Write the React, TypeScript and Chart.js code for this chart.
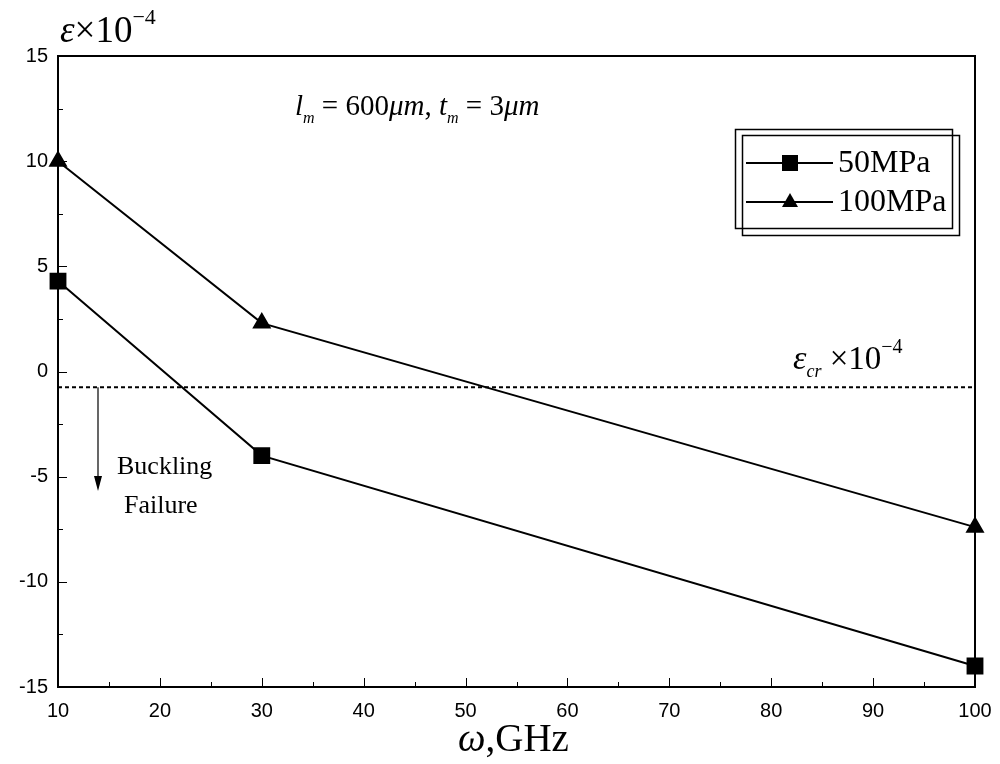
import React, { useEffect, useRef } from "react";
import { Chart, registerables } from "chart.js";

Chart.register(...registerables);

const frequencies = [10, 30, 100];
const strain50MPa = [4.3, -4.0, -14.0];
const strain100MPa = [10.0, 2.3, -7.4];
const criticalStrain = -0.75;
const criticalRange = [10, 100];
const seriesLabels = ["50MPa", "100MPa"];
const xTicks = [10, 20, 30, 40, 50, 60, 70, 80, 90, 100];
const yTicks = [-15, -10, -5, 0, 5, 10, 15];

const SERIF = '"Liberation Serif", "DejaVu Serif", serif';
const SANS = '"Liberation Sans", Arial, sans-serif';

type Seg = { t: string; size: number; italic?: boolean; dy?: number };

function drawRich(ctx: CanvasRenderingContext2D, x: number, y: number, segs: Seg[]) {
  let cx = x;
  ctx.save();
  ctx.fillStyle = "#000";
  ctx.textAlign = "left";
  ctx.textBaseline = "alphabetic";
  for (const s of segs) {
    ctx.font = `${s.italic ? "italic " : ""}${s.size}px ${SERIF}`;
    ctx.fillText(s.t, cx, y + (s.dy || 0));
    cx += ctx.measureText(s.t).width;
  }
  ctx.restore();
  return cx;
}

const decorPlugin = {
  id: "decor",
  beforeDatasetsDraw(chart: any) {
    const { ctx, chartArea, scales } = chart;
    const { left, right, top, bottom } = chartArea;
    ctx.save();
    ctx.strokeStyle = "#000";
    ctx.lineWidth = 2;
    ctx.strokeRect(left, top, right - left, bottom - top);
    ctx.lineWidth = 1;
    const xs = scales.x;
    for (let v = 10; v <= 100; v += 5) {
      const px = Math.round(xs.getPixelForValue(v)) + 0.5;
      const len = v % 10 === 0 ? 9 : 5;
      ctx.beginPath();
      ctx.moveTo(px, bottom);
      ctx.lineTo(px, bottom - len);
      ctx.stroke();
    }
    const ys = scales.y;
    for (let v = -15; v <= 15; v += 2.5) {
      const py = Math.round(ys.getPixelForValue(v)) + 0.5;
      const len = v % 5 === 0 ? 9 : 5;
      ctx.beginPath();
      ctx.moveTo(left, py);
      ctx.lineTo(left + len, py);
      ctx.stroke();
    }
    ctx.restore();
  },
  afterDraw(chart: any) {
    const { ctx } = chart;
    drawRich(ctx, 60, 42, [
      { t: "ε", size: 37, italic: true },
      { t: "×10", size: 37 },
      { t: "−4", size: 22, dy: -18 },
    ]);
    drawRich(ctx, 458, 751, [
      { t: "ω", size: 39, italic: true },
      { t: ",GHz", size: 39 },
    ]);
    drawRich(ctx, 295, 115, [
      { t: "l", size: 29, italic: true },
      { t: "m", size: 16, italic: true, dy: 8 },
      { t: " = 600", size: 29 },
      { t: "μm", size: 29, italic: true },
      { t: ", ", size: 29 },
      { t: "t", size: 29, italic: true },
      { t: "m", size: 16, italic: true, dy: 8 },
      { t: " = 3", size: 29 },
      { t: "μm", size: 29, italic: true },
    ]);
    drawRich(ctx, 793, 369, [
      { t: "ε", size: 34, italic: true },
      { t: "cr", size: 18, italic: true, dy: 8 },
      { t: " ×10", size: 33 },
      { t: "−4", size: 20, dy: -16 },
    ]);
    const ys = chart.scales.y;
    const ay = ys.getPixelForValue(criticalStrain);
    const ax = 98;
    ctx.save();
    ctx.strokeStyle = "#000";
    ctx.fillStyle = "#000";
    ctx.lineWidth = 1.2;
    ctx.beginPath();
    ctx.moveTo(ax, ay);
    ctx.lineTo(ax, 480);
    ctx.stroke();
    ctx.beginPath();
    ctx.moveTo(ax - 4, 476);
    ctx.lineTo(ax + 4, 476);
    ctx.lineTo(ax, 491);
    ctx.closePath();
    ctx.fill();
    ctx.restore();
    drawRich(ctx, 117, 474, [{ t: "Buckling", size: 26 }]);
    drawRich(ctx, 124, 513, [{ t: "Failure", size: 26 }]);
    // legend
    ctx.save();
    ctx.strokeStyle = "#000";
    ctx.lineWidth = 1.5;
    ctx.strokeRect(735.5, 129.5, 217, 99);
    ctx.strokeRect(742.5, 135.5, 217, 100);
    ctx.restore();
    const items = [
      { y: 163, label: seriesLabels[0], style: "rect" },
      { y: 202, label: seriesLabels[1], style: "triangle" },
    ];
    for (const it of items) {
      ctx.save();
      ctx.strokeStyle = "#000";
      ctx.fillStyle = "#000";
      ctx.lineWidth = 2;
      ctx.beginPath();
      ctx.moveTo(746, it.y);
      ctx.lineTo(833, it.y);
      ctx.stroke();
      if (it.style === "rect") {
        ctx.fillRect(782, it.y - 8, 16, 16);
      } else {
        ctx.beginPath();
        ctx.moveTo(790, it.y - 9);
        ctx.lineTo(798, it.y + 5);
        ctx.lineTo(782, it.y + 5);
        ctx.closePath();
        ctx.fill();
      }
      ctx.restore();
      drawRich(ctx, 838, it.y + 9, [{ t: it.label, size: 32 }]);
    }
  },
};

export default function App() {
  const ref = useRef<HTMLCanvasElement | null>(null);
  useEffect(() => {
    if (!ref.current) return;
    const chart = new Chart(ref.current, {
      type: "scatter",
      data: {
        datasets: [
          {
            label: seriesLabels[0],
            data: frequencies.map((x, i) => ({ x, y: strain50MPa[i] })),
            showLine: true,
            borderColor: "#000",
            backgroundColor: "#000",
            borderWidth: 2,
            pointStyle: "rect",
            pointRadius: 10.5,
            pointHoverRadius: 10.5,
            clip: false as any,
          },
          {
            label: seriesLabels[1],
            data: frequencies.map((x, i) => ({ x, y: strain100MPa[i] })),
            showLine: true,
            borderColor: "#000",
            backgroundColor: "#000",
            borderWidth: 2,
            pointStyle: "triangle",
            pointRadius: 9,
            pointHoverRadius: 9,
            clip: false as any,
          },
          {
            label: "critical",
            data: criticalRange.map((x) => ({ x, y: criticalStrain })),
            showLine: true,
            borderColor: "#000",
            borderWidth: 2,
            borderDash: [4, 3],
            pointRadius: 0,
          },
        ],
      },
      options: {
        animation: false,
        responsive: false,
        maintainAspectRatio: false,
        layout: { padding: { left: 0, right: 25, top: 56, bottom: 0 } },
        plugins: { legend: { display: false }, tooltip: { enabled: false } },
        scales: {
          x: {
            type: "linear",
            min: 10,
            max: 100,
            afterFit: (s: any) => {
              s.height = 77;
              s.paddingLeft = 0;
              s.paddingRight = 0;
            },
            afterBuildTicks: (s: any) => {
              s.ticks = xTicks.map((v) => ({ value: v }));
            },
            grid: { display: false, drawTicks: false },
            border: { display: false },
            ticks: {
              padding: 12,
              color: "#000",
              font: { family: SANS, size: 20 },
              maxRotation: 0,
            },
          },
          y: {
            type: "linear",
            min: -15,
            max: 15,
            afterFit: (s: any) => {
              s.width = 58;
              s.paddingTop = 0;
              s.paddingBottom = 0;
            },
            afterBuildTicks: (s: any) => {
              s.ticks = yTicks.map((v) => ({ value: v }));
            },
            grid: { display: false, drawTicks: false },
            border: { display: false },
            ticks: {
              padding: 10,
              color: "#000",
              font: { family: SANS, size: 20 },
            },
          },
        },
      },
      plugins: [decorPlugin],
    });
    return () => chart.destroy();
  }, []);
  return (
    <div style={{ position: "absolute", left: 0, top: 0, width: 1000, height: 764, background: "#fff" }}>
      <canvas ref={ref} width={1000} height={764} style={{ width: 1000, height: 764 }} />
    </div>
  );
}
